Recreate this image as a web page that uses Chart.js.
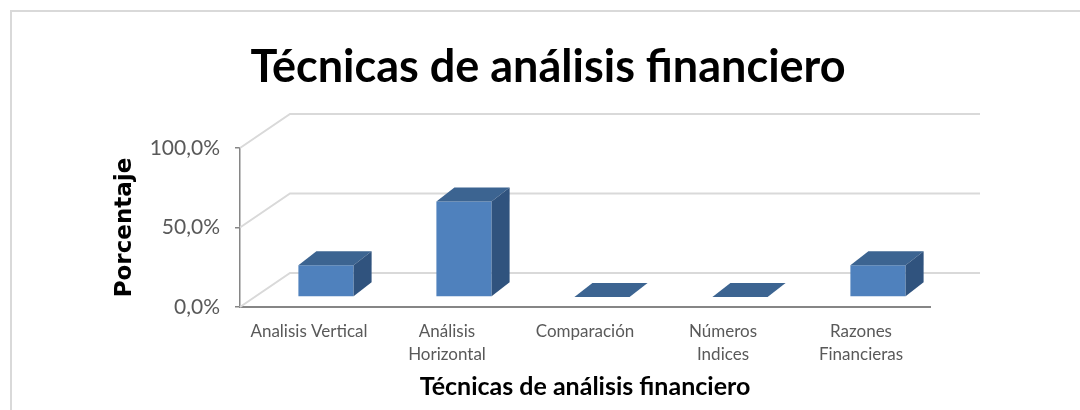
<!DOCTYPE html>
<html>
<head>
<meta charset="utf-8">
<script src="https://cdn.jsdelivr.net/npm/chart.js@4/dist/chart.umd.min.js"></script>
<style>
  html, body { margin: 0; padding: 0; background: #fff; }
  #frame {
    position: absolute; left: 10px; top: 10px; width: 1080px; height: 410px;
    border-top: 2px solid #d9d9d9; border-left: 2px solid #d9d9d9;
  }
  #chart { position: absolute; left: 0; top: 0; }
</style>
</head>
<body>
<div id="frame"></div>
<canvas id="chart" width="1080" height="410"></canvas>
<script>
// Data
const categories = [
  ['Analisis Vertical'],
  ['Análisis', 'Horizontal'],
  ['Comparación'],
  ['Números', 'Indices'],
  ['Razones', 'Financieras']
];
const percentages = [20, 60, 0, 0, 20];
const yTickValues = [0, 50, 100];

const chartTitle = 'Técnicas de análisis financiero';
const xTitle = 'Técnicas de análisis financiero';
const yTitle = 'Porcentaje';

// 3D look (Excel-like clustered 3D column)
const FONT = 'Lato, "Open Sans", sans-serif';
const wallOffset = { dx: 50, dy: -34 };
const barShift = { dx: 17, dy: -10 };
const barDepth = { dx: 18, dy: -14 };
const colors = {
  front: '#4F81BD',
  top: '#3C6491',
  side: '#30537E',
  wall: '#d9d9d9',
  axis: '#868686',
  text: '#595959'
};

const formatPct = (v) => v.toFixed(1).replace('.', ',') + '%';

const fake3d = {
  id: 'fake3d',
  beforeDatasetsDraw(chart) {
    const { ctx, chartArea } = chart;
    const yScale = chart.scales.y;

    // back wall gridlines
    ctx.save();
    ctx.strokeStyle = colors.wall;
    ctx.lineWidth = 2;
    yScale.ticks.forEach(t => {
      const y = yScale.getPixelForValue(t.value);
      ctx.beginPath();
      ctx.moveTo(chartArea.left, y);
      ctx.lineTo(chartArea.left + wallOffset.dx, y + wallOffset.dy);
      ctx.lineTo(chartArea.right + wallOffset.dx, y + wallOffset.dy);
      ctx.stroke();
    });
    ctx.restore();

    // bars sit in the middle of the depth
    ctx.save();
    ctx.translate(barShift.dx, barShift.dy);
  },
  afterDatasetsDraw(chart) {
    const { ctx } = chart;
    const meta = chart.getDatasetMeta(0);
    meta.data.forEach(bar => {
      const { x, y, base, width } = bar.getProps(['x', 'y', 'base', 'width'], true);
      const l = x - width / 2;
      const r = x + width / 2;

      // top face
      ctx.fillStyle = colors.top;
      ctx.beginPath();
      ctx.moveTo(l, y);
      ctx.lineTo(l + barDepth.dx, y + barDepth.dy);
      ctx.lineTo(r + barDepth.dx, y + barDepth.dy);
      ctx.lineTo(r, y);
      ctx.closePath();
      ctx.fill();

      // side face
      if (base - y > 0.5) {
        ctx.fillStyle = colors.side;
        ctx.beginPath();
        ctx.moveTo(r, y);
        ctx.lineTo(r + barDepth.dx, y + barDepth.dy);
        ctx.lineTo(r + barDepth.dx, base + barDepth.dy);
        ctx.lineTo(r, base);
        ctx.closePath();
        ctx.fill();
      }
    });
    ctx.restore();
  }
};

new Chart(document.getElementById('chart'), {
  type: 'bar',
  data: {
    labels: categories,
    datasets: [{
      data: percentages,
      backgroundColor: colors.front,
      borderWidth: 0,
      barPercentage: 0.4,
      categoryPercentage: 1,
      clip: false
    }]
  },
  options: {
    responsive: false,
    animation: false,
    layout: { padding: { left: 16, right: 0, top: 0, bottom: 0 } },
    plugins: {
      legend: { display: false },
      tooltip: { enabled: false },
      title: {
        display: true,
        text: chartTitle,
        color: '#000',
        font: { family: FONT, size: 45, weight: 'bold', lineHeight: 1.2 },
        padding: { top: 40, bottom: 54 }
      }
    },
    scales: {
      x: {
        grid: { display: false, drawTicks: false },
        border: { display: true, color: colors.axis, width: 2 },
        ticks: {
          color: colors.text,
          padding: 13,
          maxRotation: 0,
          autoSkip: false,
          font: { family: FONT, size: 17, lineHeight: 1.353 }
        },
        title: {
          display: true,
          text: xTitle,
          color: '#000',
          font: { family: FONT, size: 25, weight: 'bold', lineHeight: 1.2 },
          padding: { top: 0, bottom: 8 }
        },
        afterFit: (s) => { s.height = 103; }
      },
      y: {
        min: 0,
        max: 100,
        afterBuildTicks: (s) => { s.ticks = yTickValues.map(v => ({ value: v })); },
        grid: { drawOnChartArea: false, drawTicks: true, tickLength: 5, color: colors.axis, lineWidth: 1.5 },
        border: { display: true, color: colors.axis, width: 1.5 },
        ticks: {
          color: colors.text,
          padding: 15,
          font: { family: FONT, size: 21 },
          callback: (v) => formatPct(v)
        },
        title: {
          display: true,
          text: yTitle,
          color: '#000',
          font: { family: '"DejaVu Sans", sans-serif', size: 23, weight: 'bold', lineHeight: 1.2 },
          padding: { top: 95, bottom: 0 }
        },
        afterFit: (s) => { s.width = 224; }
      },
      yRight: {
        position: 'right',
        display: true,
        grid: { display: false },
        border: { display: false },
        ticks: { display: false },
        afterFit: (s) => { s.width = 150; }
      }
    }
  },
  plugins: [fake3d]
});
</script>
</body>
</html>
